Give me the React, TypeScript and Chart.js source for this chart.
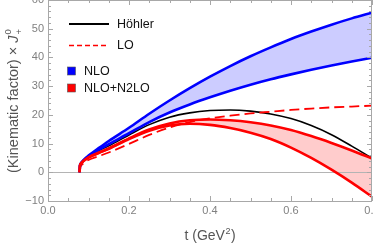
import React, { useEffect, useRef } from "react";
import { Chart, registerables } from "chart.js";

Chart.register(...registerables);

// ---- data ----
const tValues = [0.078, 0.079, 0.081, 0.085, 0.09, 0.1, 0.125, 0.15, 0.2, 0.25, 0.3, 0.35, 0.4, 0.45, 0.5, 0.55, 0.6, 0.65, 0.7, 0.75, 0.8];
const nloUpper = [0, 2.4, 3.1, 3.8, 4.6, 5.8, 8.4, 10.9, 15.5, 20.4, 25.0, 29.3, 33.3, 37.0, 40.4, 43.5, 46.4, 49.0, 51.4, 53.6, 55.6];
const nloLower = [0, 2.4, 3.0, 3.7, 4.4, 5.5, 7.8, 9.8, 13.6, 17.5, 20.8, 23.6, 26.1, 28.4, 30.5, 32.4, 34.1, 35.7, 37.2, 38.6, 39.9];
const hoehler = [0, 2.4, 3.0, 3.7, 4.4, 5.5, 7.5, 9.2, 13.0, 16.6, 19.2, 20.7, 21.5, 21.7, 21.3, 20.3, 18.7, 16.3, 13.1, 9.1, 4.9];
const n2loUpper = [0, 2.3, 3.0, 3.6, 4.2, 5.2, 6.8, 8.3, 11.8, 14.9, 17.0, 18.1, 18.4, 18.1, 17.4, 16.3, 14.7, 12.6, 10.2, 7.6, 4.8];
const n2loLower = [0, 2.3, 3.0, 3.6, 4.2, 5.1, 6.7, 8.2, 11.6, 14.5, 16.3, 16.9, 16.5, 15.4, 13.8, 11.6, 8.6, 5.0, 0.9, -3.6, -8.5];
const loValues = [0, 1.5, 2.2, 2.8, 3.4, 4.3, 5.6, 6.9, 9.9, 13.0, 15.6, 17.5, 18.8, 19.7, 20.5, 21.1, 21.7, 22.2, 22.6, 22.9, 23.2];

const xMajorTicks = [0.0, 0.2, 0.4, 0.6, 0.8];
const xTickLabels = ["0.0", "0.2", "0.4", "0.6", "0.8"];
const yMajorTicks = [-10, 0, 10, 20, 30, 40, 50, 60];
const yTickLabels = ["\u221210", "0", "10", "20", "30", "40", "50", "60"];
const legendLabels = ["Höhler", "LO", "NLO", "NLO+N2LO"];

const pts = (ys: number[]) => tValues.map((t, i) => ({ x: t, y: ys[i] }));

const FONT = '"Liberation Sans", Arial, sans-serif';

const framePlugin = {
  id: "mmaFrame",
  beforeDatasetsDraw(chart: any) {
    const { ctx, chartArea: a, scales } = chart;
    const y0 = scales.y.getPixelForValue(0);
    ctx.save();
    ctx.strokeStyle = "#b4b4b4";
    ctx.lineWidth = 1;
    ctx.beginPath();
    ctx.moveTo(a.left, Math.round(y0) + 0.5);
    ctx.lineTo(a.right, Math.round(y0) + 0.5);
    ctx.stroke();
    ctx.restore();
  },
  afterDraw(chart: any) {
    const { ctx, chartArea: a, scales } = chart;
    const xs = scales.x;
    const ys = scales.y;
    ctx.save();
    // frame
    ctx.strokeStyle = "#a8a8a8";
    ctx.lineWidth = 1;
    ctx.beginPath();
    ctx.moveTo(a.left + 0.5, a.top);
    ctx.lineTo(a.left + 0.5, a.bottom + 0.5);
    ctx.lineTo(a.right, a.bottom + 0.5);
    ctx.moveTo(a.right - 0.5, a.top);
    ctx.lineTo(a.right - 0.5, a.bottom);
    ctx.moveTo(a.left, a.top + 0.5);
    ctx.lineTo(a.right, a.top + 0.5);
    ctx.stroke();
    // x ticks
    ctx.beginPath();
    for (let k = 0; k <= 16; k++) {
      const v = k * 0.05;
      const px = Math.round(xs.getPixelForValue(v)) + 0.5;
      const major = k % 4 === 0;
      const len = major ? 5 : 3;
      ctx.moveTo(px, a.bottom);
      ctx.lineTo(px, a.bottom - len);
      ctx.moveTo(px, a.top);
      ctx.lineTo(px, a.top + len);
    }
    // y ticks
    for (let v = -10; v <= 60; v += 2) {
      const py = Math.round(ys.getPixelForValue(v)) + 0.5;
      const major = v % 10 === 0;
      const len = major ? 5 : 3;
      ctx.moveTo(a.left, py);
      ctx.lineTo(a.left + len, py);
      ctx.moveTo(a.right, py);
      ctx.lineTo(a.right - len, py);
    }
    ctx.stroke();
    // tick labels
    ctx.fillStyle = "#808080";
    ctx.font = `11px ${FONT}`;
    ctx.textAlign = "center";
    ctx.textBaseline = "middle";
    xMajorTicks.forEach((v, i) => {
      ctx.fillText(xTickLabels[i], xs.getPixelForValue(v), a.bottom + 10);
    });
    ctx.textAlign = "right";
    yMajorTicks.forEach((v, i) => {
      ctx.fillText(yTickLabels[i], a.left - 4, ys.getPixelForValue(v));
    });
    // x title: t (GeV^2)
    ctx.fillStyle = "#555555";
    ctx.textAlign = "left";
    ctx.textBaseline = "alphabetic";
    const mainFont = `14px ${FONT}`;
    const supFont = `9px ${FONT}`;
    ctx.font = mainFont;
    const p1 = "t (GeV";
    const w1 = ctx.measureText(p1).width;
    ctx.font = supFont;
    const w2 = ctx.measureText("2").width;
    ctx.font = mainFont;
    const w3 = ctx.measureText(")").width;
    const tot = w1 + w2 + w3 + 1;
    const xx = (a.left + a.right) / 2 - tot / 2;
    const by = 240;
    ctx.fillText(p1, xx, by);
    ctx.font = supFont;
    ctx.fillText("2", xx + w1 + 0.5, by - 6);
    ctx.font = mainFont;
    ctx.fillText(")", xx + w1 + w2 + 1, by);
    // y title
    ctx.save();
    ctx.translate(18, 101);
    ctx.rotate(-Math.PI / 2);
    const yMain = "(Kinematic factor) \u00d7 ";
    const yFont = `14.5px ${FONT}`;
    const italicFont = `italic 14.5px ${FONT}`;
    const ySup = `9.5px ${FONT}`;
    ctx.font = yFont;
    const m1 = ctx.measureText(yMain).width;
    ctx.font = italicFont;
    const m2 = ctx.measureText("J").width;
    ctx.font = ySup;
    const m3 = Math.max(ctx.measureText("+").width, ctx.measureText("0").width);
    const ytot = m1 + m2 + m3 + 1;
    const yx = -ytot / 2;
    ctx.font = yFont;
    ctx.fillText(yMain, yx, 0);
    ctx.font = italicFont;
    ctx.fillText("J", yx + m1, 0);
    ctx.font = ySup;
    ctx.fillText("0", yx + m1 + m2 + 1, -7);
    ctx.fillText("+", yx + m1 + m2 + 1, 4);
    ctx.restore();
    // legend
    ctx.font = `12.5px ${FONT}`;
    ctx.textBaseline = "middle";
    ctx.fillStyle = "#111111";
    ctx.strokeStyle = "#000000";
    ctx.lineWidth = 2;
    ctx.beginPath();
    ctx.moveTo(69, 24);
    ctx.lineTo(109, 24);
    ctx.stroke();
    ctx.fillText(legendLabels[0], 117, 24.5);
    ctx.strokeStyle = "#ff0000";
    ctx.lineWidth = 1.5;
    ctx.setLineDash([5, 3]);
    ctx.beginPath();
    ctx.moveTo(69, 45.5);
    ctx.lineTo(109, 45.5);
    ctx.stroke();
    ctx.setLineDash([]);
    ctx.fillText(legendLabels[1], 117, 46);
    ctx.fillStyle = "#0000ff";
    ctx.fillRect(67.5, 67, 8, 8);
    ctx.strokeStyle = "#555";
    ctx.lineWidth = 0.6;
    ctx.strokeRect(67.5, 67, 8, 8);
    ctx.fillStyle = "#ff0000";
    ctx.fillRect(67.5, 84, 8, 8);
    ctx.strokeRect(67.5, 84, 8, 8);
    ctx.fillStyle = "#111111";
    ctx.fillText(legendLabels[2], 84, 71.5);
    ctx.fillText(legendLabels[3], 84, 88.5);
    ctx.restore();
  },
};

export default function App() {
  const ref = useRef<HTMLCanvasElement | null>(null);
  useEffect(() => {
    if (!ref.current) return;
    const chart = new Chart(ref.current, {
      type: "line",
      data: {
        datasets: [
          { label: "NLO+N2LO upper", data: pts(n2loUpper), borderColor: "#ff0000", borderWidth: 2.6, fill: false },
          { label: "NLO+N2LO", data: pts(n2loLower), borderColor: "#ff0000", borderWidth: 2.6, fill: "-1", backgroundColor: "rgba(255,0,0,0.2)" },
          { label: "NLO upper", data: pts(nloUpper), borderColor: "#0000ff", borderWidth: 2.6, fill: false },
          { label: "NLO", data: pts(nloLower), borderColor: "#0000ff", borderWidth: 2.6, fill: "-1", backgroundColor: "rgba(0,0,255,0.2)" },
          { label: "LO", data: pts(loValues), borderColor: "#ff0000", borderWidth: 1.8, borderDash: [10, 5], fill: false },
          { label: "Höhler", data: pts(hoehler), borderColor: "#000000", borderWidth: 1.6, fill: false },
        ],
      },
      options: {
        responsive: false,
        animation: false,
        parsing: false as any,
        normalized: true,
        elements: { point: { radius: 0 }, line: { cubicInterpolationMode: "monotone" } },
        layout: { padding: { left: 48, right: 2, top: 0, bottom: 43 } },
        scales: {
          x: { type: "linear", min: 0, max: 0.8, display: false },
          y: { type: "linear", min: -10, max: 60, display: false },
        },
        plugins: {
          legend: { display: false },
          tooltip: { enabled: false },
          filler: { drawTime: "beforeDatasetsDraw" } as any,
        },
      },
      plugins: [framePlugin],
    });
    return () => chart.destroy();
  }, []);
  return (
    <div style={{ position: "absolute", left: 0, top: 0, width: 374, height: 244, background: "#fff" }}>
      <canvas ref={ref} width={374} height={244} />
    </div>
  );
}
